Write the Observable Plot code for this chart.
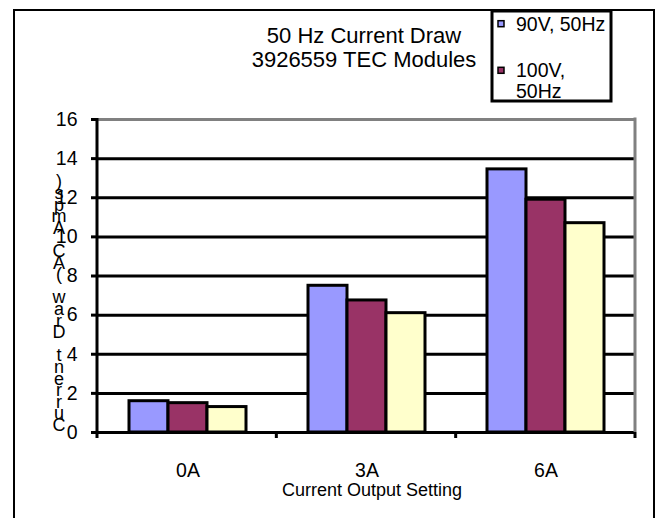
<!DOCTYPE html>
<html><head><meta charset="utf-8">
<script src="https://cdn.jsdelivr.net/npm/d3@7"></script>
<script src="https://cdn.jsdelivr.net/npm/@observablehq/plot@0.6"></script>
<style>
body{margin:0;background:#fff}
#chart{position:relative;width:657px;height:518px;overflow:hidden}
#chart svg{display:block}
</style>
</head><body><div id="chart"></div>
<script>
const categories = ["0A", "3A", "6A"];
const seriesNames = ["90V, 50Hz", "100V, 50Hz", "Series3"];
const values90V = [1.6, 7.5, 13.45];
const values100V = [1.5, 6.75, 11.9];
const valuesSeries3 = [1.3, 6.1, 10.7];
const yTicks = [0, 2, 4, 6, 8, 10, 12, 14, 16];
const seriesColors = ["#9999FF", "#993366", "#FFFFCC"];
const titleLines = ["50 Hz Current Draw", "3926559 TEC Modules"];
const xLabel = "Current Output Setting";
const yLabel = "Current Draw (AC Amps)";

const seriesValues = [values90V, values100V, valuesSeries3];
const data = categories.flatMap((c, i) =>
  seriesNames.map((s, j) => ({cat: c, series: s, value: seriesValues[j][i]})));

const FONT = "'Liberation Sans', Arial, sans-serif";

const chart = Plot.plot({
  width: 657, height: 518,
  marginLeft: 97, marginRight: 22, marginTop: 119, marginBottom: 86,
  style: {fontFamily: FONT, fontSize: "19.5px", color: "#000", background: "transparent", overflow: "visible"},
  facet: {data, x: "cat"},
  fx: {domain: categories, padding: 0, label: null, axis: "bottom", tickSize: 0, tickPadding: 31},
  x: {domain: seriesNames, paddingInner: 0, paddingOuter: 0.74, axis: null},
  y: {domain: [0, 16], ticks: yTicks, label: null, tickSize: 7, tickPadding: 14},
  color: {domain: seriesNames, range: seriesColors},
  marks: [
    Plot.ruleY(yTicks.filter(t => t < 16), {stroke: "#000", strokeWidth: 3}),
    Plot.ruleY([16], {stroke: "#808080", strokeWidth: 3}),
    Plot.barY(data, {x: "series", y: "value", fill: "series", stroke: "#000", strokeWidth: 3})
  ]
});

document.getElementById("chart").appendChild(chart);
const svg = d3.select(chart);
svg.selectAll('g[aria-label="y-axis tick"]').attr("stroke-width", 3);
svg.selectAll('.tick line').attr("stroke-width", 3);
svg.selectAll('g[aria-label$="tick label"], g[aria-label$="tick label"] text, .tick text')
  .attr("font-size", 19.5).style("font-size", "19.5px");

// plot frame from library scales
const fxs = chart.scale("fx");
const ys = chart.scale("y");
const x0 = Math.min(...fxs.range), x1 = Math.max(...fxs.range);
const yb = Math.max(...ys.range), yt = Math.min(...ys.range);
const step = (x1 - x0) / categories.length;

const deco = svg.append("g");
deco.append("line").attr("x1", x0).attr("x2", x0).attr("y1", yt - 1).attr("y2", yb + 6)
  .attr("stroke", "#000").attr("stroke-width", 3);
deco.append("line").attr("x1", x1).attr("x2", x1).attr("y1", yt - 1.5).attr("y2", yb)
  .attr("stroke", "#808080").attr("stroke-width", 3);
for (let i = 1; i <= categories.length; i++) {
  deco.append("line").attr("x1", x0 + i * step).attr("x2", x0 + i * step)
    .attr("y1", yb).attr("y2", yb + 6).attr("stroke", "#000").attr("stroke-width", 3);
}

// outer chart border
svg.append("rect").attr("x", 14).attr("y", 10).attr("width", 640).attr("height", 540)
  .attr("fill", "none").attr("stroke", "#000").attr("stroke-width", 2);

// title
const cx = 364;
titleLines.forEach((t, i) => {
  svg.append("text").attr("x", cx).attr("y", 43 + i * 23.5)
    .attr("text-anchor", "middle").attr("font-family", FONT).attr("font-size", 22)
    .attr("fill", "#000").text(t);
});

// x label
svg.append("text").attr("x", (x0 + x1) / 2 + 6).attr("y", 495.5)
  .attr("text-anchor", "middle").attr("font-family", FONT).attr("font-size", 18)
  .attr("fill", "#000").text(xLabel);

// y label: upright letters stacked bottom-to-top
const chars = Array.from(yLabel);
chars.forEach((ch, i) => {
  if (ch === " ") return;
  svg.append("text").attr("x", 59).attr("y", 431 - i * 11.6)
    .attr("text-anchor", "middle").attr("font-family", FONT).attr("font-size", 18)
    .attr("fill", "#000").text(ch);
});

// legend
const defs = svg.append("defs");
defs.append("clipPath").attr("id", "legclip").append("rect")
  .attr("x", 492).attr("y", 11).attr("width", 119).attr("height", 90);
const leg = svg.append("g");
leg.append("rect").attr("x", 492).attr("y", 11).attr("width", 119).attr("height", 90)
  .attr("fill", "#fff").attr("stroke", "none");
const legItems = leg.append("g").attr("clip-path", "url(#legclip)");
let by = 30.7;
seriesNames.forEach((name, i) => {
  const lines = name.length > 9 ? name.split(/(?<=,)\s+/) : [name];
  legItems.append("rect").attr("x", 498).attr("y", by - 10).attr("width", 6).attr("height", 6)
    .attr("fill", seriesColors[i]).attr("stroke", "#000").attr("stroke-width", 1.5);
  lines.forEach((ln, k) => {
    legItems.append("text").attr("x", 516).attr("y", by + k * 21)
      .attr("text-anchor", "start")
      .attr("font-family", FONT).attr("font-size", 19.5).attr("fill", "#000").text(ln);
  });
  by += 46.6;
});
leg.append("rect").attr("x", 492).attr("y", 11).attr("width", 119).attr("height", 90)
  .attr("fill", "none").attr("stroke", "#000").attr("stroke-width", 3);
</script>
</body></html>
